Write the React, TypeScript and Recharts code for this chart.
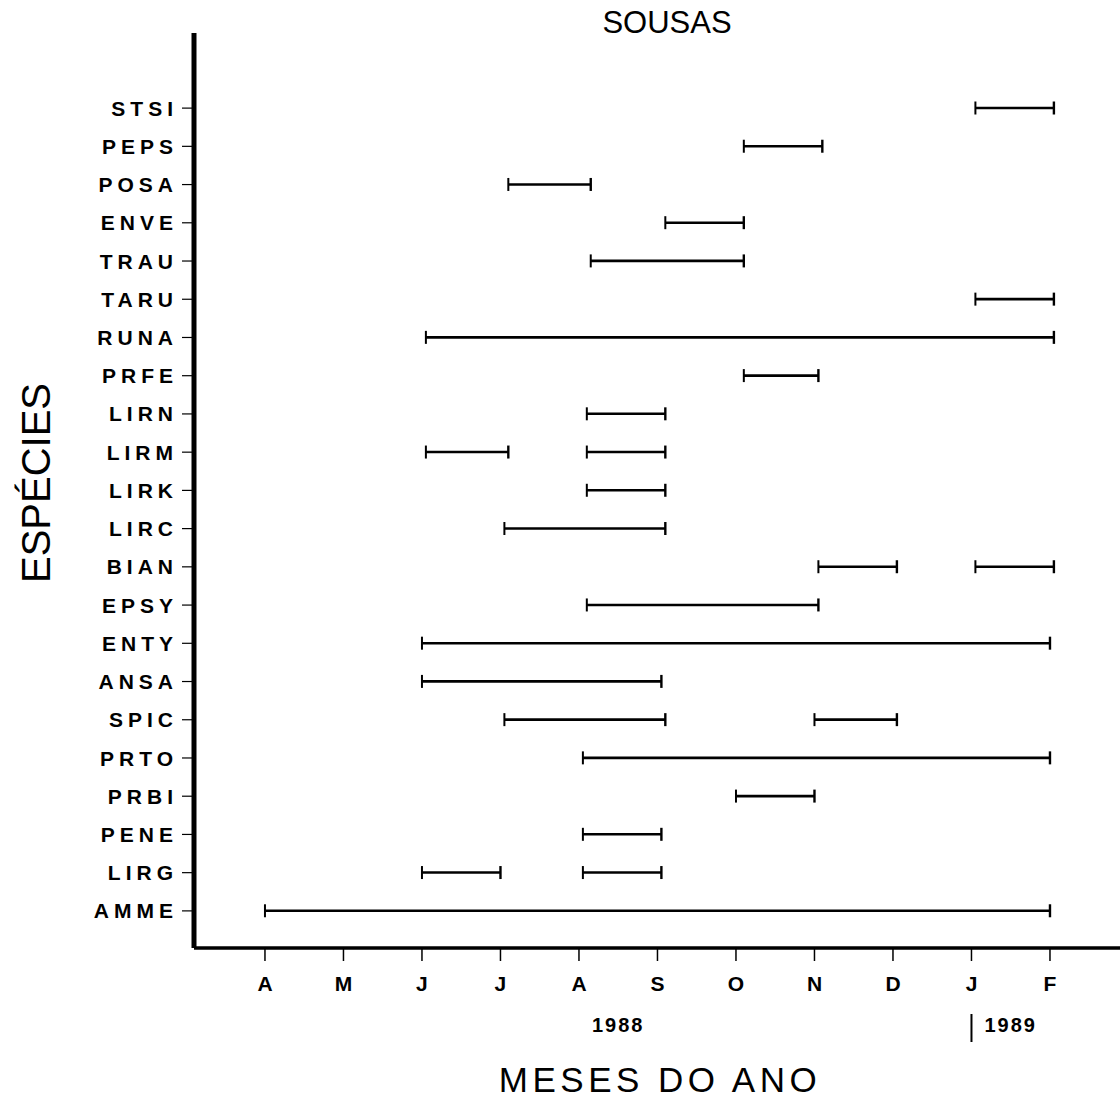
import { BarChart, Bar, XAxis, YAxis } from 'recharts';

const FONT = '"Liberation Sans", Arial, Helvetica, sans-serif';

// months run from April 1988 (0) to February 1989 (10)
const months = ['A', 'M', 'J', 'J', 'A', 'S', 'O', 'N', 'D', 'J', 'F'];
const monthTicks = [0, 1, 2, 3, 4, 5, 6, 7, 8, 9, 10];
const years = ['1988', '1989'];
const yearTicks = [4.5, 9];

const species = [
  'STSI', 'PEPS', 'POSA', 'ENVE', 'TRAU', 'TARU', 'RUNA', 'PRFE', 'LIRN', 'LIRM', 'LIRK',
  'LIRC', 'BIAN', 'EPSY', 'ENTY', 'ANSA', 'SPIC', 'PRTO', 'PRBI', 'PENE', 'LIRG', 'AMME',
];
const firstStart = [9.05, 6.1, 3.1, 5.1, 4.15, 9.05, 2.05, 6.1, 4.1, 2.05, 4.1, 3.05, 7.05, 4.1, 2.0, 2.0, 3.05, 4.05, 6.0, 4.05, 2.0, 0.0];
const firstEnd = [10.05, 7.1, 4.15, 6.1, 6.1, 10.05, 10.05, 7.05, 5.1, 3.1, 5.1, 5.1, 8.05, 7.05, 10.0, 5.05, 5.1, 10.0, 7.0, 5.05, 3.0, 10.0];
const secondStart = [null, null, null, null, null, null, null, null, null, 4.1, null, null, 9.05, null, null, null, 7.0, null, null, null, 4.05, null];
const secondEnd = [null, null, null, null, null, null, null, null, null, 5.1, null, null, 10.05, null, null, null, 8.05, null, null, null, 5.05, null];

const rows = species.map((name, i) => ({
  name,
  first: [firstStart[i], firstEnd[i]],
  second: secondStart[i] != null ? [secondStart[i], secondEnd[i]] : null,
}));

const Segment = (props: any) => {
  const { x, y, width, height } = props;
  if (x == null || width == null || isNaN(x) || isNaN(width) || width <= 0) return null;
  const cy = y + height / 2;
  return (
    <g>
      <line x1={x} x2={x + width} y1={cy} y2={cy} stroke="#000" strokeWidth={2.6} />
      <line x1={x} x2={x} y1={cy - 6.5} y2={cy + 6.5} stroke="#000" strokeWidth={2} />
      <line x1={x + width} x2={x + width} y1={cy - 6.5} y2={cy + 6.5} stroke="#000" strokeWidth={2.4} />
    </g>
  );
};

const SpeciesTick = ({ x, y, payload }: any) => (
  <text
    x={x}
    y={y}
    dy="0.36em"
    textAnchor="end"
    fill="#000"
    style={{ fontFamily: FONT, fontSize: 21, fontWeight: 700, letterSpacing: '5px' }}
  >
    {payload.value}
  </text>
);

const MonthTick = ({ x, y, payload }: any) => (
  <text
    x={x}
    y={y}
    dy="0.71em"
    textAnchor="middle"
    fill="#000"
    style={{ fontFamily: FONT, fontSize: 21, fontWeight: 700 }}
  >
    {months[Math.round(payload.value)]}
  </text>
);

const YearTick = ({ x, y, payload, index }: any) => {
  const label = years[index] ?? years[yearTicks.indexOf(payload.value)];
  if (label === '1989') {
    return (
      <g>
        <line x1={x} x2={x} y1={y - 4} y2={y + 24} stroke="#000" strokeWidth={2} />
        <text
          x={x + 13}
          y={y}
          dy="0.71em"
          textAnchor="start"
          fill="#000"
          style={{ fontFamily: FONT, fontSize: 20, fontWeight: 700, letterSpacing: '2px' }}
        >
          {label}
        </text>
      </g>
    );
  }
  return (
    <text
      x={x}
      y={y}
      dy="0.71em"
      textAnchor="middle"
      fill="#000"
      style={{ fontFamily: FONT, fontSize: 20, fontWeight: 700, letterSpacing: '2px' }}
    >
      {label}
    </text>
  );
};

export default function App() {
  return (
    <div style={{ position: 'absolute', left: 0, top: 0, width: 1120, height: 1104, background: '#fff' }}>
      <BarChart
        width={1120}
        height={1104}
        data={rows}
        layout="vertical"
        margin={{ top: 33, right: 0, bottom: 56, left: 0 }}
        barGap={-14}
      >
        <XAxis
          type="number"
          domain={[-0.904, 10.892]}
          ticks={monthTicks}
          interval={0}
          allowDataOverflow
          height={60}
          tickSize={13}
          tickMargin={15}
          axisLine={{ stroke: '#000', strokeWidth: 3.5 }}
          tickLine={{ stroke: '#000', strokeWidth: 1.5 }}
          tick={<MonthTick />}
        />
        <XAxis
          xAxisId="year"
          type="number"
          domain={[-0.904, 10.892]}
          ticks={yearTicks}
          interval={0}
          allowDataOverflow
          height={40}
          tickSize={0}
          tickMargin={10}
          axisLine={false}
          tickLine={false}
          tick={<YearTick />}
        />
        <YAxis
          type="category"
          dataKey="name"
          width={194}
          padding={{ top: 56, bottom: 18 }}
          tickSize={12}
          tickMargin={4}
          interval={0}
          axisLine={{ stroke: '#000', strokeWidth: 5 }}
          tickLine={{ stroke: '#000', strokeWidth: 1.2 }}
          tick={<SpeciesTick />}
        />
        <Bar dataKey="first" barSize={14} isAnimationActive={false} shape={<Segment />} />
        <Bar dataKey="second" barSize={14} isAnimationActive={false} shape={<Segment />} />
      </BarChart>
      <svg
        width={1120}
        height={1104}
        style={{ position: 'absolute', left: 0, top: 0, pointerEvents: 'none' }}
      >
        <text x={667} y={33} textAnchor="middle" fill="#000" style={{ fontFamily: FONT, fontSize: 31 }}>
          SOUSAS
        </text>
        <text
          x={50}
          y={483}
          transform="rotate(-90 50 483)"
          textAnchor="middle"
          fill="#000"
          style={{ fontFamily: FONT, fontSize: 40 }}
        >
          ESPÉCIES
        </text>
        <text
          x={660}
          y={1092}
          textAnchor="middle"
          fill="#000"
          style={{ fontFamily: FONT, fontSize: 35, letterSpacing: '4.5px' }}
        >
          MESES DO ANO
        </text>
      </svg>
    </div>
  );
}
